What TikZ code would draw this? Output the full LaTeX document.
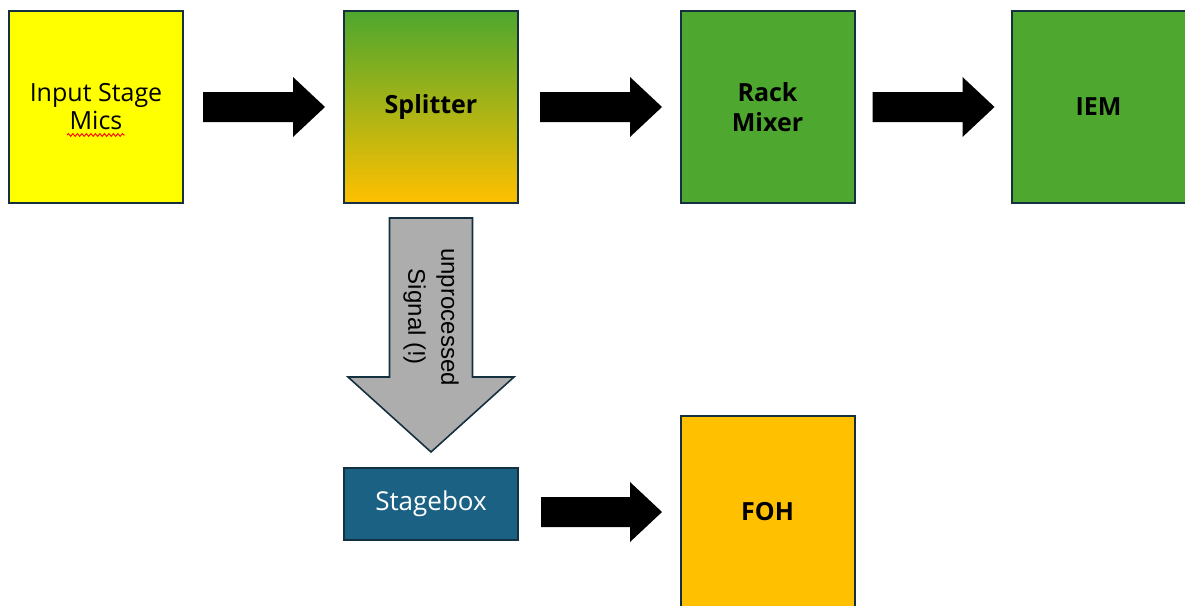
\documentclass[tikz,border=0pt]{standalone}
\usepackage{fontspec}
\setmainfont{Open Sans}
\newfontfamily\arialfont{Liberation Sans}
\usetikzlibrary{calc,decorations.pathmorphing}
\definecolor{bordc}{HTML}{15303F}
\definecolor{yelc}{HTML}{FFFF00}
\definecolor{grnc}{HTML}{4EA72E}
\definecolor{orgc}{HTML}{FFC000}
\definecolor{bluc}{HTML}{1A6184}
\definecolor{gryc}{HTML}{ADADAD}
\tikzset{
  box/.style={draw=bordc, line width=2pt, minimum width=174pt, minimum height=192pt, inner sep=0pt, align=center, text=black},
  lbl/.style={font=\fontsize{25}{28}\selectfont},
  blbl/.style={font=\fontsize{25}{30}\selectfont\bfseries},
  blk/.style={fill=black, draw=none},
  grayarrow/.style={fill=gryc, draw=bordc, line width=1.6pt, line join=miter},
}
\begin{document}
\begin{tikzpicture}[x=1pt,y=-1pt]
\useasboundingbox (0,0) rectangle (1185,605);
\node[box, fill=yelc, lbl] (inp) at (96,107) {Input Stage\\Mics};
\node[box, top color=grnc, bottom color=orgc, blbl] (spl) at (431,107) {Splitter};
\node[box, fill=grnc, blbl] (rack) at (767.5,107) {Rack\\Mixer};
\node[box, fill=grnc, blbl] (iem) at (1098.5,107) {IEM};
\node[box, fill=bluc, text=white, font=\fontsize{26}{30}\selectfont, minimum height=72pt] (sb) at (431,504) {Stagebox};
\node[box, fill=orgc, blbl] (foh) at (767.5,512) {FOH};

% red spell-check squiggle
\draw[red, line width=0.9pt, decorate, decoration={snake, amplitude=1.4pt, segment length=4.5pt}]
  ($(inp.center)+(-29,28)$) -- ($(inp.center)+(29,28)$);

% block arrows
\foreach \n/\s/\h/\t in {inp/19/109/141, spl/21/111/143, rack/17/107/139}{
  \fill[black] ($(\n.east)+(\s,-15)$) -- ($(\n.east)+(\h,-15)$) -- ($(\n.east)+(\h,-30)$)
    -- ($(\n.east)+(\t,0)$) -- ($(\n.east)+(\h,30)$) -- ($(\n.east)+(\h,15)$)
    -- ($(\n.east)+(\s,15)$) -- cycle;
}
\coordinate (a4) at (sb.east |- foh.west);
\fill[black] ($(a4)+(22,-15)$) -- ($(a4)+(111,-15)$) -- ($(a4)+(111,-30)$)
  -- ($(a4)+(143,0)$) -- ($(a4)+(111,30)$) -- ($(a4)+(111,15)$)
  -- ($(a4)+(22,15)$) -- cycle;

% gray down arrow
\draw[grayarrow] ($(spl.south)+(-41.5,14)$) -- ($(spl.south)+(41.5,14)$)
  -- ($(spl.south)+(41.5,173)$) -- ($(spl.south)+(83,173)$)
  -- ($(sb.north)+(0,-15)$)
  -- ($(spl.south)+(-83,173)$) -- ($(spl.south)+(-41.5,173)$) -- cycle;
\node[rotate=-90, align=center, font=\arialfont\fontsize{24}{33}\selectfont] (sig) at (431,317) {unprocessed\\Signal (!)};
\end{tikzpicture}
\end{document}
